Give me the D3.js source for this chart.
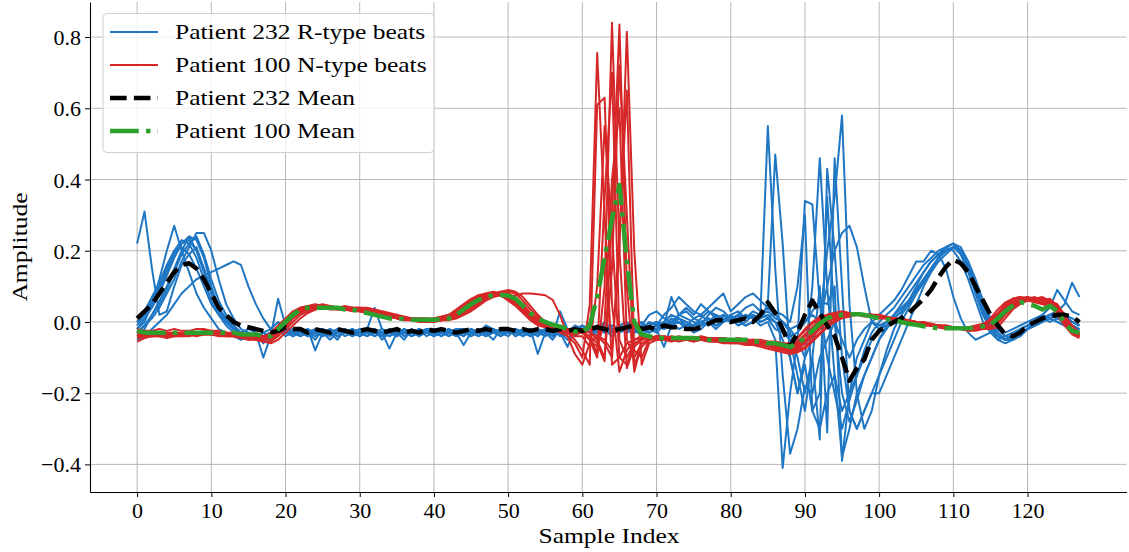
<!DOCTYPE html>
<html><head><meta charset="utf-8">
<script src="https://cdn.jsdelivr.net/npm/d3@7"></script>
<style>
html,body{margin:0;padding:0;background:#fff;}
svg{display:block;}
text{font-family:"Liberation Serif","DejaVu Serif",serif;fill:#000;}
</style></head>
<body><svg id="c" width="1129" height="552"></svg>
<script>
const xTicks=[0,10,20,30,40,50,60,70,80,90,100,110,120];
const yTicks=[-0.4,-0.2,0.0,0.2,0.4,0.6,0.8];
const legendLabels=["Patient 232 R-type beats","Patient 100 N-type beats","Patient 232 Mean","Patient 100 Mean"];

const blue1=[.22,.31,.15,.02,.03,.10,.16,.19,.21,.15,.08,.03,.0,-.02,-.03,-.02,-.03,-.04,-.03,-.02,-.03,-.02,-.03,-.04,-.02,-.03,-.02,-.04,-.03,-.02,-.03,-.04,-.02,-.03,-.03,-.02,-.04,-.03,-.02,-.03,-.02,-.03,-.04,-.02,-.03,-.02,-.03,-.01,-.02,-.03,-.02,-.03,-.02,-.04,-.02,-.03,-.05,-.02,-.03,-.01,-.02,-.03,-.01,-.02,-.04,-.02,-.01,-.03,-.02,.0,-.01,-.02,.0,.01,-.01,-.02,.0,.01,-.01,.0,.01,.0,-.01,.0,.02,.55,.15,-.15,-.37,-.3,-.18,-.2,-.1,-.05,.0,-.05,-.1,-.05,-.02,.0,-.01,.0,.01,.03,.06,.1,.14,.17,.19,.21,.22,.2,.15,.08,.02,-.02,-.04,-.05,-.04,-.02,-.01,.0,.01,.02,.01,.0,-.01,-.02];
const blue2=[-.02,.0,.05,.12,.2,.27,.2,.14,.08,.04,.01,-.02,-.03,-.04,-.05,-.04,-.03,-.06,-.04,-.03,-.02,-.04,-.03,-.02,-.04,-.03,-.05,-.03,-.02,-.03,-.04,-.03,-.02,-.05,-.03,-.02,-.03,-.04,-.03,-.02,-.04,-.03,-.02,-.03,-.04,-.02,-.03,-.03,-.05,-.02,-.03,-.02,-.04,-.03,-.02,-.03,-.04,-.02,-.03,-.04,-.02,-.03,-.02,-.01,-.03,-.02,-.03,-.02,-.01,-.02,-.03,-.01,.0,-.02,-.01,-.03,-.02,.0,-.01,.01,.0,.01,-.01,.0,.01,.05,.47,.22,-.1,-.2,-.12,-.25,-.3,-.2,-.15,-.25,-.2,-.15,-.08,-.03,.0,.02,.04,.07,.1,.13,.16,.18,.2,.21,.2,.17,.12,.06,.0,-.03,-.05,-.04,-.03,-.02,-.01,.0,.01,.0,.01,.02,.0,-.01];
const blue3=[.0,.03,.07,.11,.16,.2,.23,.22,.18,.12,.06,.02,-.01,-.03,-.04,-.03,-.05,-.03,-.02,.0,-.02,-.03,-.04,-.02,-.08,-.03,-.02,-.04,-.03,-.03,-.02,-.03,-.04,-.03,-.02,-.04,-.03,-.03,-.02,-.04,-.03,-.02,-.03,-.04,-.03,-.02,-.04,-.03,-.02,-.03,-.04,-.02,-.03,-.02,-.03,-.04,-.02,-.03,-.05,-.02,-.03,-.01,-.02,-.03,-.02,-.01,-.02,-.03,-.02,-.01,.0,-.02,-.01,.02,.03,.01,.0,-.01,.01,.02,.01,.0,.02,.01,-.01,.0,-.05,-.41,-.2,-.05,.34,.33,.05,-.1,-.2,-.3,-.22,-.15,-.1,-.05,-.02,.0,.02,.04,.06,.09,.12,.15,.18,.2,.21,.2,.16,.1,.04,-.01,-.03,-.05,-.04,-.03,-.02,-.01,.0,.01,.0,-.01,-.02,-.03];
const blue4=[-.04,-.02,.02,.06,.1,.15,.2,.24,.23,.18,.1,.04,.0,-.02,-.04,-.05,-.04,-.03,-.04,-.02,-.03,-.04,-.02,-.03,-.05,-.02,-.03,-.04,-.03,-.02,-.03,-.02,-.04,-.03,-.075,-.03,-.05,-.02,-.03,-.02,-.02,-.04,-.03,-.02,-.02,-.03,-.02,-.04,-.03,-.02,-.02,-.04,-.03,-.03,-.04,-.02,-.03,-.03,-.02,-.04,-.02,-.02,-.04,-.02,-.01,-.03,-.02,.0,-.02,-.03,-.02,-.01,.01,.0,-.01,.01,.02,.0,-.02,.0,.01,-.01,.0,.02,.01,.02,.0,-.05,-.1,-.2,-.1,.1,.46,.1,-.15,-.38,-.3,-.2,-.15,-.1,-.05,-.02,.01,.03,.06,.09,.12,.15,.18,.21,.22,.19,.14,.08,.02,-.02,-.04,-.05,-.04,-.03,-.02,.0,.01,.02,.01,.0,-.01,-.02];
const blue5=[-.03,-.01,.01,.04,.08,.12,.17,.21,.25,.25,.2,.12,.05,.01,-.02,-.03,-.04,-.05,-.03,-.02,-.04,-.03,-.02,-.04,-.03,-.02,-.03,-.05,-.02,-.03,-.04,-.02,-.03,-.03,-.04,-.02,-.03,-.02,-.04,-.03,-.03,-.04,-.02,-.03,-.065,-.03,-.02,-.04,-.03,-.02,-.03,-.02,-.03,-.04,-.02,-.03,-.02,-.04,-.03,-.03,-.01,-.02,-.03,-.01,-.02,-.03,-.01,-.02,-.04,-.02,-.01,.0,.02,.01,.0,-.01,.01,.03,.02,.0,.02,.03,.01,.02,.0,.01,-.02,-.03,-.05,-.15,-.25,-.1,-.33,.43,.2,-.1,-.25,-.3,-.25,-.2,-.15,-.1,-.05,.0,.04,.08,.12,.15,.18,.2,.21,.2,.17,.12,.06,.01,-.02,-.04,-.05,-.04,-.02,.0,.01,.02,.03,.02,.0,-.01];
const blue6=[-.05,-.04,-.02,.0,.02,.05,.08,.1,.12,.13,.14,.15,.16,.17,.16,.1,.05,.01,-.02,-.03,-.02,-.03,-.04,-.03,-.02,-.04,-.03,-.02,-.03,-.04,-.03,-.02,.04,-.02,-.03,-.04,-.02,-.03,-.03,-.02,-.04,-.03,-.02,-.03,-.02,-.04,-.03,-.02,-.03,-.02,-.03,-.03,-.02,-.04,-.03,-.02,-.04,.03,-.02,-.03,-.02,-.01,-.03,-.02,-.01,-.02,-.03,-.01,.0,-.02,-.01,.02,.04,.07,.05,.03,.02,.04,.06,.08,.03,.05,.07,.08,.06,.04,.02,.0,-.03,-.1,-.2,-.1,.1,-.31,.46,.1,-.25,-.3,-.25,-.2,-.2,-.15,-.1,-.05,.0,.05,.1,.14,.18,.21,.22,.2,.16,.1,.05,.01,-.02,-.04,-.04,-.03,-.02,.0,.02,.04,.09,.06,.03,.02];
const blue7=[.0,.02,.05,.09,.14,.19,.22,.24,.2,.14,.08,.04,.01,-.01,-.03,-.04,-.03,-.1,-.04,.065,-.01,-.03,-.02,-.03,-.04,-.02,-.03,-.03,-.02,-.04,-.03,-.03,-.02,-.04,-.03,-.02,-.03,-.04,-.02,-.03,-.02,-.03,-.03,-.02,-.04,-.02,-.03,-.02,-.03,-.04,-.02,-.03,-.04,-.02,-.09,-.03,-.02,-.03,-.07,-.02,-.03,-.02,-.01,-.03,-.02,-.02,-.01,-.03,-.02,-.01,-.02,-.07,-.01,.0,-.02,-.01,.0,.01,.0,.02,.0,.02,.01,.03,.02,.04,.02,.0,-.02,-.05,-.1,-.05,.0,.2,.35,.58,.05,-.2,-.3,-.25,-.15,-.08,-.02,.02,.05,.08,.11,.14,.17,.19,.21,.2,.16,.1,.04,.0,-.03,-.05,-.05,-.03,-.02,-.01,.0,.02,.03,.05,.11,.07];
const blue8=[-.02,.01,.04,.08,.13,.18,.22,.23,.2,.15,.09,.04,.01,-.02,-.03,-.04,-.05,-.04,-.03,-.02,-.03,-.02,-.04,-.03,-.02,-.03,-.04,-.02,-.03,-.02,-.04,-.03,-.02,-.03,-.04,-.03,-.02,-.04,-.03,-.02,-.03,-.02,-.04,-.03,-.02,-.03,-.04,-.02,-.03,-.03,-.02,-.04,-.02,-.03,-.03,-.02,-.04,-.03,-.02,-.03,-.02,-.03,-.02,-.01,-.02,-.03,-.01,-.02,-.01,-.03,-.02,.0,-.01,.01,.0,-.02,-.01,.02,.04,.03,.01,.02,.04,.05,.03,.01,.0,-.02,-.04,-.03,.0,.03,.06,.05,.1,-.39,-.2,-.1,-.05,.0,.02,.04,.06,.09,.13,.17,.17,.2,.19,.15,.07,.01,-.03,-.05,-.04,-.03,-.02,-.03,-.02,-.01,.0,.01,.02,.01,.0,-.01,-.02,-.02];
const blue9=[-.03,-.01,.02,.05,.09,.14,.19,.22,.24,.19,.12,.06,.02,-.01,-.03,-.04,-.05,-.04,-.03,-.02,-.02,-.04,-.03,-.02,-.03,-.04,-.02,-.03,-.03,-.02,-.03,-.04,-.03,-.02,-.03,-.02,-.04,-.03,-.02,-.03,-.04,-.02,-.03,-.02,-.03,-.04,-.02,-.03,-.02,-.04,-.03,-.02,-.03,-.02,-.04,-.02,-.03,-.02,-.03,-.02,-.03,-.02,-.02,-.01,-.03,-.02,-.01,-.02,-.03,-.01,.0,-.01,.07,.02,.01,.0,-.01,.0,.02,.01,.0,.01,.02,.01,.02,.03,.01,.0,-.02,-.01,.0,.02,.0,.1,.2,.25,.27,.21,.1,.0,-.02,-.01,.01,.03,.06,.09,.12,.15,.18,.2,.21,.19,.15,.09,.03,-.01,-.04,-.05,-.05,-.04,-.02,-.01,.0,.01,.02,.01,.0,-.01];
const blue10=[-.01,.02,.06,.1,.15,.2,.21,.19,.15,.1,.05,.02,.0,-.02,-.03,-.04,-.03,-.05,-.04,-.02,-.03,-.02,-.03,-.04,-.03,-.02,-.03,-.02,-.04,-.03,-.02,-.03,-.03,-.04,-.02,-.03,-.02,-.03,-.04,-.02,-.03,-.03,-.02,-.04,-.03,-.02,-.03,-.04,-.02,-.03,-.03,-.02,-.03,-.03,-.02,-.04,-.02,-.03,-.03,-.02,-.01,-.03,-.02,.0,-.02,-.01,.0,-.02,-.01,.02,.03,.01,.0,.02,.04,.02,.05,.03,.01,.0,.02,.0,.01,.02,.0,.01,.03,.02,.0,.1,.3,-.25,-.2,.35,.0,-.2,-.28,-.22,-.15,-.1,-.05,-.01,.02,.05,.08,.11,.14,.17,.19,.21,.22,.21,.17,.1,.03,-.02,-.05,-.06,-.05,-.03,-.02,.0,.01,.02,.03,.02,.01,.0];

const red1=[-.04,-.04,-.035,-.04,-.035,-.04,-.035,-.03,-.035,-.03,-.03,-.035,-.03,-.035,-.04,-.045,-.045,-.05,-.03,-.01,.01,.03,.04,.045,.05,.045,.045,.04,.04,.035,.03,.03,.025,.02,.015,.01,.01,.005,.005,.005,.01,.015,.02,.035,.05,.065,.075,.08,.08,.075,.06,.045,.025,.005,-.01,-.015,-.02,-.03,-.04,-.06,-.1,.05,.755,.3,-.12,-.1,-.06,-.05,-.04,-.045,-.045,-.05,-.045,-.05,-.05,-.045,-.05,-.05,-.05,-.055,-.055,-.05,-.055,-.06,-.06,-.065,-.07,-.075,-.065,-.045,-.02,.0,.015,.02,.025,.03,.025,.025,.02,.02,.02,.015,.01,.005,.005,.0,-.005,-.01,-.01,-.015,-.015,-.02,-.02,-.015,-.01,.01,.035,.055,.065,.07,.065,.06,.055,.05,.02,-.01,-.035,-.045];
const red2=[-.03,-.035,-.03,-.03,-.035,-.03,-.03,-.035,-.03,-.03,-.03,-.03,-.035,-.04,-.04,-.04,-.045,-.04,-.035,-.02,.0,.02,.035,.04,.045,.05,.045,.04,.04,.04,.035,.03,.03,.02,.015,.01,.01,.01,.005,.005,.005,.01,.015,.025,.04,.055,.07,.08,.085,.08,.07,.055,.035,.015,.0,-.01,-.02,-.025,-.03,-.05,-.08,-.12,.61,.63,.05,-.14,-.08,-.05,-.045,-.045,-.04,-.045,-.045,-.05,-.045,-.05,-.05,-.045,-.05,-.05,-.05,-.055,-.05,-.055,-.06,-.06,-.065,-.07,-.07,-.055,-.035,-.015,.005,.015,.02,.025,.025,.02,.02,.015,.015,.01,.01,.005,.0,.0,-.005,-.01,-.015,-.015,-.02,-.02,-.015,-.015,-.01,.0,.02,.045,.06,.065,.07,.06,.05,.055,.035,.0,-.03,-.04];
const red3=[-.035,-.03,-.035,-.03,-.03,-.035,-.035,-.03,-.03,-.035,-.03,-.035,-.035,-.03,-.035,-.04,-.04,-.045,-.045,-.025,-.005,.015,.03,.04,.04,.045,.045,.04,.035,.035,.035,.03,.025,.02,.02,.015,.01,.005,.005,.0,.005,.005,.01,.02,.03,.045,.06,.075,.08,.085,.08,.065,.045,.02,.005,-.005,-.015,-.02,-.025,-.03,-.03,-.05,-.1,.1,.84,.2,-.13,-.07,-.05,-.045,-.045,-.04,-.045,-.045,-.05,-.045,-.045,-.05,-.05,-.045,-.05,-.05,-.055,-.05,-.055,-.06,-.06,-.065,-.07,-.065,-.05,-.03,-.01,.01,.02,.02,.025,.025,.02,.02,.015,.015,.01,.01,.005,.0,.0,-.005,-.01,-.01,-.015,-.015,-.02,-.02,-.015,-.01,.005,.03,.05,.06,.065,.06,.065,.06,.04,.01,-.025,-.035];
const red4=[-.03,-.03,-.03,-.035,-.03,-.03,-.03,-.035,-.03,-.025,-.025,-.03,-.03,-.035,-.035,-.035,-.04,-.045,-.05,-.035,-.015,.01,.025,.035,.04,.04,.04,.04,.04,.04,.04,.035,.03,.025,.02,.015,.01,.01,.01,.005,.005,.005,.01,.015,.025,.04,.055,.065,.075,.08,.085,.08,.06,.035,.015,.0,-.01,-.015,-.02,-.025,-.03,-.04,-.06,-.11,.3,.835,.1,-.14,-.06,-.05,-.04,-.045,-.045,-.045,-.045,-.05,-.045,-.05,-.05,-.05,-.05,-.05,-.05,-.055,-.055,-.06,-.065,-.07,-.075,-.075,-.06,-.04,-.02,.0,.015,.02,.02,.025,.02,.02,.015,.01,.01,.005,.0,.0,-.005,-.01,-.01,-.015,-.015,-.02,-.02,-.02,-.015,-.01,.0,.025,.045,.06,.065,.07,.06,.05,.04,.01,-.02,-.035];
const red5=[-.045,-.04,-.04,-.04,-.045,-.04,-.04,-.035,-.04,-.035,-.035,-.035,-.04,-.04,-.045,-.05,-.05,-.055,-.06,-.05,-.03,-.01,.01,.025,.035,.04,.04,.04,.045,.04,.04,.04,.035,.03,.025,.02,.015,.01,.01,.01,.005,.005,.005,.01,.02,.03,.045,.06,.07,.075,.07,.075,.08,.08,.078,.075,.062,.02,-.04,-.09,-.12,-.06,-.04,-.05,-.08,.2,.815,.2,-.12,-.06,-.05,-.05,-.055,-.05,-.05,-.055,-.05,-.055,-.055,-.06,-.06,-.06,-.065,-.065,-.07,-.075,-.08,-.085,-.09,-.085,-.075,-.055,-.035,-.015,.0,.01,.015,.02,.02,.02,.015,.01,.01,.005,.0,-.005,-.01,-.01,-.015,-.015,-.02,-.02,-.025,-.025,-.02,-.02,-.015,.01,.035,.05,.06,.065,.07,.06,.05,.02,-.01,-.03];
const red6=[-.02,-.025,-.025,-.02,-.025,-.02,-.025,-.025,-.02,-.02,-.025,-.025,-.03,-.03,-.03,-.035,-.035,-.04,-.035,-.015,.005,.025,.04,.045,.045,.045,.04,.04,.035,.035,.03,.025,.02,.02,.015,.01,.01,.005,.01,.01,.01,.015,.02,.03,.045,.06,.07,.075,.08,.075,.065,.05,.03,.01,-.005,-.01,-.02,-.025,-.03,-.04,-.04,-.07,.1,.55,.25,-.1,-.12,-.06,-.05,-.045,-.04,-.04,-.045,-.04,-.045,-.045,-.04,-.045,-.045,-.045,-.05,-.045,-.05,-.05,-.05,-.055,-.055,-.06,-.06,-.045,-.025,-.005,.01,.02,.025,.025,.025,.02,.02,.015,.015,.01,.01,.005,.005,.0,-.005,-.005,-.01,-.01,-.015,-.015,-.015,-.01,-.005,.005,.025,.05,.065,.07,.065,.055,.05,.045,.025,-.005,-.03,-.04];
const red7=[-.035,-.035,-.03,-.035,-.035,-.03,-.035,-.03,-.03,-.03,-.035,-.03,-.03,-.035,-.04,-.04,-.04,-.05,-.04,-.02,.0,.02,.03,.04,.04,.04,.04,.035,.035,.035,.03,.03,.025,.02,.015,.015,.01,.01,.005,.005,.005,.01,.015,.025,.035,.05,.065,.075,.08,.08,.075,.06,.04,.02,.0,-.01,-.015,-.02,-.025,-.03,-.03,-.04,-.09,.35,.7,-.05,-.1,-.06,-.05,-.04,-.045,-.045,-.04,-.045,-.05,-.045,-.05,-.045,-.05,-.05,-.05,-.05,-.055,-.055,-.06,-.06,-.065,-.07,-.07,-.06,-.04,-.02,.0,.015,.02,.025,.02,.02,.02,.015,.015,.01,.01,.005,.005,.0,-.005,-.01,-.01,-.015,-.015,-.015,-.02,-.015,-.01,.0,.02,.04,.055,.065,.07,.065,.06,.055,.03,.0,-.03,-.04];
const red8=[-.03,-.03,-.035,-.03,-.03,-.03,-.035,-.03,-.03,-.03,-.03,-.03,-.035,-.035,-.035,-.04,-.045,-.045,-.045,-.03,-.01,.01,.03,.04,.04,.045,.04,.04,.04,.035,.035,.03,.025,.025,.02,.015,.01,.01,.005,.005,.005,.005,.01,.02,.03,.045,.06,.07,.08,.08,.08,.07,.05,.025,.01,-.005,-.015,-.02,-.025,-.03,-.02,-.03,-.05,-.1,.15,.72,.3,-.12,-.07,-.05,-.045,-.045,-.05,-.045,-.05,-.05,-.045,-.05,-.05,-.05,-.055,-.05,-.055,-.055,-.06,-.06,-.065,-.07,-.075,-.07,-.055,-.035,-.015,.005,.015,.02,.02,.02,.02,.015,.015,.01,.005,.005,.0,-.005,-.005,-.01,-.015,-.015,-.02,-.02,-.02,-.02,-.015,-.01,.005,.03,.05,.06,.065,.06,.06,.065,.045,.01,-.02,-.035];
const red9=[-.04,-.035,-.04,-.035,-.035,-.04,-.035,-.035,-.035,-.03,-.03,-.035,-.035,-.04,-.04,-.04,-.045,-.05,-.04,-.025,-.005,.015,.03,.035,.04,.04,.035,.035,.035,.03,.03,.025,.02,.015,.015,.01,.005,.005,.0,.0,.0,.005,.01,.015,.03,.045,.06,.07,.075,.075,.07,.055,.04,.02,.0,-.01,-.015,-.02,-.03,-.035,-.03,-.05,-.07,.0,.4,.6,-.05,-.1,-.06,-.05,-.045,-.05,-.045,-.05,-.05,-.05,-.05,-.05,-.055,-.05,-.055,-.055,-.055,-.06,-.06,-.065,-.07,-.075,-.08,-.075,-.06,-.04,-.02,.0,.01,.015,.02,.02,.015,.015,.01,.01,.005,.005,.0,-.005,-.01,-.01,-.015,-.02,-.02,-.02,-.025,-.02,-.02,-.015,.0,.025,.045,.055,.06,.055,.06,.055,.035,.005,-.025,-.04];
const red10=[-.055,-.045,-.04,-.04,-.04,-.035,-.04,-.04,-.035,-.035,-.035,-.04,-.04,-.04,-.045,-.045,-.05,-.055,-.055,-.04,-.02,.0,.02,.03,.035,.04,.04,.04,.04,.04,.035,.035,.03,.025,.02,.015,.015,.01,.01,.005,.005,.005,.01,.01,.02,.035,.05,.065,.075,.085,.09,.085,.07,.045,.02,.0,-.01,-.02,-.025,-.035,-.02,-.03,-.04,-.06,-.1,.25,.65,-.08,-.1,-.05,-.05,-.05,-.05,-.055,-.05,-.055,-.05,-.055,-.055,-.055,-.06,-.06,-.06,-.065,-.065,-.07,-.075,-.08,-.085,-.08,-.07,-.05,-.03,-.01,.005,.015,.02,.02,.02,.02,.015,.01,.01,.005,.0,.0,-.005,-.01,-.01,-.015,-.015,-.02,-.02,-.02,-.02,-.015,-.005,.02,.04,.055,.06,.06,.055,.06,.04,.01,-.02,-.035];

const mean232=[.01,.03,.05,.08,.11,.14,.16,.165,.15,.12,.08,.04,.02,.0,-.01,-.015,-.02,-.025,-.03,-.025,-.015,-.02,-.02,-.03,-.02,-.025,-.03,-.02,-.025,-.03,-.025,-.02,-.025,-.03,-.025,-.02,-.03,-.025,-.03,-.02,-.025,-.02,-.025,-.03,-.025,-.02,-.025,-.02,-.025,-.02,-.02,-.025,-.02,-.025,-.02,-.02,-.025,-.02,-.025,-.02,-.025,-.02,-.015,-.02,-.025,-.02,-.015,-.01,-.02,-.015,-.02,-.01,-.015,-.015,-.02,-.02,-.015,-.005,.005,.005,.0,.005,.01,.0,.02,.055,.025,-.02,-.07,-.03,.02,.06,.025,-.01,-.04,-.1,-.165,-.13,-.105,-.05,-.025,-.012,.0,.01,.025,.045,.065,.09,.125,.155,.175,.165,.14,.1,.06,.02,-.01,-.035,-.04,-.03,-.01,.0,.01,.015,.02,.02,.015,.0];
const mean100=[-.025,-.03,-.03,-.03,-.03,-.03,-.03,-.03,-.03,-.03,-.03,-.03,-.03,-.03,-.035,-.035,-.035,-.04,-.04,-.02,.0,.02,.035,.04,.04,.04,.04,.04,.035,.035,.03,.025,.02,.015,.01,.01,.008,.006,.006,.006,.006,.008,.01,.02,.035,.05,.062,.07,.075,.076,.074,.065,.045,.025,.01,.0,-.008,-.013,-.02,-.027,-.03,-.01,.07,.18,.29,.385,.17,.0,-.035,-.04,-.045,-.045,-.045,-.045,-.045,-.045,-.048,-.05,-.05,-.05,-.05,-.05,-.05,-.055,-.055,-.06,-.06,-.065,-.07,-.06,-.045,-.025,-.005,.01,.018,.02,.022,.022,.02,.015,.01,.008,.005,.0,-.005,-.008,-.012,-.015,-.018,-.018,-.018,-.018,-.018,-.015,-.012,-.008,.01,.03,.045,.056,.05,.045,.035,.045,.03,-.003,-.025,-.03];

const blueBeats=[blue1,blue2,blue3,blue4,blue5,blue6,blue7,blue8,blue9,blue10];
const redBeats=[red1,red2,red3,red4,red5,red6,red7,red8,red9,red10];

const C={blue:"#1f77c4",red:"#d62728",black:"#000",green:"#2ca02c",grid:"#b0b0b0"};
const FONT='"Liberation Serif","DejaVu Serif",serif';
const WIDEN=1.16; // Computer Modern is wider than Times
const svg=d3.select("#c");
const L=90,R=1126.6,T=2,B=492;
const x=d3.scaleLinear().domain([-6.35,133.35]).range([L,R]);
const y=d3.scaleLinear().domain([-0.4775,0.8985]).range([B,T]);

function widen(sel){sel.each(function(){const w=this.getComputedTextLength();d3.select(this).attr("textLength",w*WIDEN).attr("lengthAdjust","spacingAndGlyphs");});}

// grid
const g=svg.append("g");
g.selectAll("line.vx").data(xTicks).join("line").attr("x1",d=>x(d)).attr("x2",d=>x(d)).attr("y1",T).attr("y2",B).attr("stroke",C.grid).attr("stroke-width",0.9);
g.selectAll("line.hy").data(yTicks).join("line").attr("y1",d=>y(d)).attr("y2",d=>y(d)).attr("x1",L).attr("x2",R).attr("stroke",C.grid).attr("stroke-width",0.9);

const line=d3.line().x((d,i)=>x(i)).y(d=>y(d));
const lines=svg.append("g").attr("fill","none").attr("stroke-linejoin","round");
lines.selectAll("path.b").data(blueBeats).join("path").attr("d",line).attr("stroke",C.blue).attr("stroke-width",2);
lines.selectAll("path.r").data(redBeats).join("path").attr("d",line).attr("stroke",C.red).attr("stroke-width",2);
const lw=4.5;
const dashBlack=`${3.7*lw},${1.6*lw}`, dashGreen=`${6.4*lw},${1.6*lw},${1*lw},${1.6*lw}`;
lines.append("path").attr("d",line(mean232)).attr("stroke",C.black).attr("stroke-width",lw).attr("stroke-dasharray",dashBlack);
lines.append("path").attr("d",line(mean100)).attr("stroke",C.green).attr("stroke-width",lw).attr("stroke-dasharray",dashGreen);

// axes
const ax=svg.append("g").attr("transform",`translate(0,${B})`).call(d3.axisBottom(x).tickValues(xTicks).tickSize(5).tickSizeOuter(0).tickPadding(5).tickFormat(d3.format("d")));
const ay=svg.append("g").attr("transform",`translate(${L},0)`).call(d3.axisLeft(y).tickValues(yTicks).tickSize(5).tickSizeOuter(0).tickPadding(4).tickFormat(d3.format(".1f")));
[ax,ay].forEach(a=>{a.selectAll("text").style("font-family",FONT).style("font-size","22px").attr("fill","#000");a.select(".domain").attr("stroke","#000").attr("stroke-width",1.1);a.selectAll(".tick line").attr("stroke","#000").attr("stroke-width",1);});
ax.selectAll("text").attr("dy","0.72em");
ay.selectAll("text").attr("dy","0.34em");

svg.append("text").attr("x",609).attr("y",543).attr("text-anchor","middle").style("font-size","22px").text("Sample Index").call(widen);
svg.append("text").attr("transform",`translate(27,${(T+B)/2}) rotate(-90)`).attr("text-anchor","middle").style("font-size","22px").text("Amplitude").call(widen);

// legend
const lg=svg.append("g");
lg.append("rect").attr("x",103).attr("y",13.5).attr("width",331).attr("height",139).attr("rx",4).attr("fill","#fff").attr("fill-opacity",0.8).attr("stroke","#d0d0d0").attr("stroke-width",1);
const styles=[{c:C.blue,w:2,d:null},{c:C.red,w:2,d:null},{c:C.black,w:lw,d:dashBlack},{c:C.green,w:lw,d:dashGreen}];
const rowY=[32,65,98,131];
legendLabels.forEach((t,i)=>{
  const s=styles[i];
  lg.append("line").attr("x1",110).attr("x2",158).attr("y1",rowY[i]).attr("y2",rowY[i]).attr("stroke",s.c).attr("stroke-width",s.w).attr("stroke-dasharray",s.d);
  lg.append("text").attr("x",175).attr("y",rowY[i]).attr("dy","0.33em").style("font-size","22px").text(t).call(widen);
});
</script></body></html>
